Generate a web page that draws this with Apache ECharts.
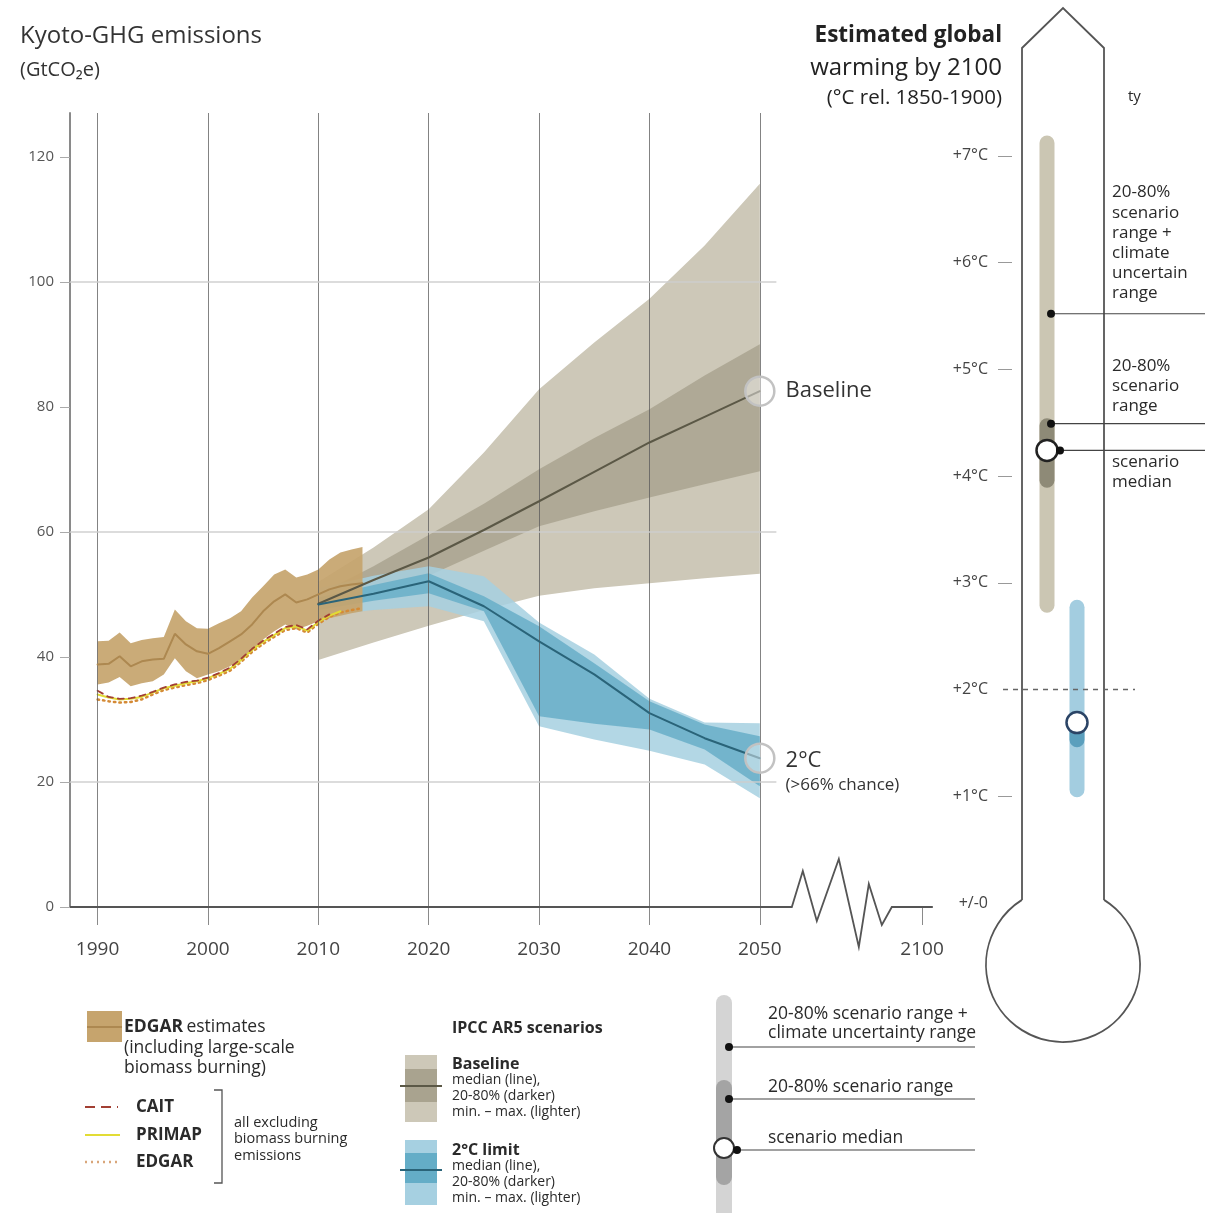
<!DOCTYPE html>
<html><head><meta charset="utf-8">
<script src="https://cdn.jsdelivr.net/npm/echarts@6/dist/echarts.min.js"></script>
<style>html,body{margin:0;padding:0;background:#fff}#c{width:1218px;height:1213px}</style>
</head><body><div id="c"></div>
<script>
// ---------------- DATA ----------------
const histYears = [1990,1991,1992,1993,1994,1995,1996,1997,1998,1999,2000,2001,2002,2003,2004,2005,2006,2007,2008,2009,2010,2011,2012,2013,2014];
const edgarHigh = [42.5,42.6,43.9,42.2,42.7,43.0,43.2,47.6,45.7,44.6,44.5,45.4,46.2,47.3,49.5,51.3,53.2,54.0,52.7,53.2,54.0,55.6,56.7,57.2,57.6];
const edgarMed  = [38.8,38.9,40.1,38.5,39.3,39.6,39.7,43.7,42.0,40.9,40.5,41.4,42.5,43.6,45.2,47.3,48.9,50.0,48.7,49.2,50.0,50.8,51.3,51.6,51.8];
const edgarLow  = [35.6,35.9,36.8,35.3,35.8,36.1,37.2,39.8,37.7,36.6,37.2,37.7,38.5,39.6,40.9,42.8,44.1,45.2,44.4,45.0,45.7,46.2,46.6,47.0,47.3];
const edgarExcl = [33.2,32.9,32.7,32.8,33.2,34.0,34.7,35.1,35.5,35.8,36.3,37.0,37.8,39.2,40.8,42.1,43.2,44.3,44.6,43.9,45.3,46.4,47.1,47.5,47.8];
const primapYears = [1990,1991,1992,1993,1994,1995,1996,1997,1998,1999,2000,2001,2002,2003,2004,2005,2006,2007,2008,2009,2010,2011,2012];
const primapValues = [34.0,33.5,33.2,33.3,33.6,34.3,35.0,35.4,35.8,36.1,36.6,37.3,38.1,39.5,41.1,42.4,43.5,44.6,44.9,44.2,45.6,46.6,47.3];
const caitYears = [1990,1991,1992,1993,1994,1995,1996,1997,1998,1999,2000,2001,2002,2003,2004,2005,2006,2007,2008,2009,2010,2011];
const caitValues = [34.6,33.6,33.3,33.4,33.8,34.4,35.1,35.6,36.0,36.2,36.7,37.4,38.3,39.7,41.3,42.6,43.7,44.8,45.1,44.4,45.8,46.8];

const projYears = [2010,2015,2020,2025,2030,2035,2040,2045,2050];
const baseMax = [52.0,57.5,63.6,72.7,82.8,90.3,97.3,105.8,115.7];
const baseP80 = [50.0,54.5,59.5,64.5,70.0,75.0,79.6,85.0,90.0];
const baseMed = [48.5,52.3,55.9,60.3,64.9,69.6,74.3,78.4,82.5];
const baseP20 = [47.0,50.0,53.0,57.0,60.9,63.3,65.5,67.6,69.7];
const baseMin = [39.5,42.3,45.0,47.5,49.8,51.0,51.8,52.6,53.3];

const twoMax = [51.0,53.0,54.5,52.9,45.5,40.4,33.3,29.5,29.4];
const twoP80 = [49.5,51.5,53.4,49.7,44.9,39.0,32.9,29.2,27.3];
const twoMed = [48.4,50.1,52.1,48.1,42.5,37.2,31.0,27.0,23.8];
const twoP20 = [47.5,49.0,50.2,47.3,30.5,29.3,28.4,25.2,19.3];
const twoMin = [46.5,47.5,48.1,45.7,28.9,26.8,25.0,22.8,17.4];

const yTicks = [0,20,40,60,80,100,120];
const yGridValues = [20,60,100];
const xGridYears = [1990,2000,2010,2020,2030,2040,2050];
const xTickYears = [1990,2000,2010,2020,2030,2040,2050,2100];

const warmCats = ['Baseline','2°C'];
const warmOuterLo = [2.72,0.99];
const warmOuterHi = [7.19,2.84];
const warmInnerLo = [3.89,1.46];
const warmInnerHi = [4.54,1.75];
const warmMed = [4.24,1.69];
const warmAnnot = [5.52,4.49,4.24];
const tempTickValues = [0,1,2,3,4,5,6,7];
const tempTickLabels = ['+/-0','+1°C','+2°C','+3°C','+4°C','+5°C','+6°C','+7°C'];
const tempTickMarks = [1,3,4,5,6,7];
const twoDegLine = 2;

// ---------------- LAYOUT / STYLE ----------------
const FONT = '"Open Sans","Noto Sans",sans-serif';
const X_MIN = 1987.5, X_MAX = 2065.6, BREAK_POS = 2064.7; // axis is broken after 2050; 2100 drawn at BREAK_POS
const xTickPos = xTickYears.map(y => y > 2050 ? BREAK_POS : y);
const C = {
  edgar:'#c6a46d', edgarLine:'#ad8850',
  baseLight:'#cdc8b8', baseDark:'#a9a38f', baseLine:'#5b5846',
  twoLight:'#a6d0e1', twoDark:'#64adc7', twoLine:'#2a6479',
  cait:'#a23f33', primap:'#e2dc35', edgarExcl:'#d48a36'
};

function bandSeries(name, xs, lo, hi, color, opacity, z) {
  return {
    name, type:'custom', xAxisIndex:0, yAxisIndex:0, z, silent:true,
    data: xs.map((x,i)=>[x, lo[i], hi[i]]),
    encode:{x:0, y:[1,2]},
    renderItem(params, api) {
      if (params.dataIndex !== 0) return null;
      const pts = [];
      for (let i=0;i<xs.length;i++) pts.push(api.coord([xs[i], hi[i]]));
      for (let i=xs.length-1;i>=0;i--) pts.push(api.coord([xs[i], lo[i]]));
      return {type:'polygon', shape:{points:pts}, style:{fill:color, opacity}};
    }
  };
}
function lineSeries(name, xs, ys, color, width, type, z, extra) {
  return Object.assign({
    name, type:'line', xAxisIndex:0, yAxisIndex:0, z, silent:true, symbol:'none',
    data: xs.map((x,i)=>[x, ys[i]]),
    lineStyle:{color, width, type, cap:'round'}
  }, extra||{});
}
function warmBar(lo, hi, colors, w, z) {
  return {
    type:'custom', xAxisIndex:1, yAxisIndex:1, z, silent:true,
    data: warmCats.map((c,i)=>[i, lo[i], hi[i]]),
    encode:{x:0, y:[1,2]},
    renderItem(params, api) {
      const i = params.dataIndex;
      const top = api.coord([i, api.value(2)]);
      const bot = api.coord([i, api.value(1)]);
      return {type:'rect', shape:{x:top[0]-w/2, y:top[1], width:w, height:bot[1]-top[1], r:w/2}, style:{fill:colors[i]}};
    }
  };
}

const chart = echarts.init(document.getElementById('c'));
const last = projYears.length - 1;

chart.setOption({
  animation:false,
  textStyle:{fontFamily:FONT},
  grid:[
    {left:70, top:113, right:286, bottom:306},
    {left:1032, width:60, top:49, bottom:310}
  ],
  xAxis:[
    {type:'value', gridIndex:0, min:X_MIN, max:X_MAX,
     axisLine:{show:false},
     axisTick:{show:true, customValues:xTickPos, length:18, lineStyle:{color:'#8a8a8a', width:1}},
     axisLabel:{customValues:xTickPos, margin:33, fontSize:19, color:'#444', fontFamily:FONT,
       formatter:v=>{const i=xTickPos.findIndex(p=>Math.abs(p-v)<0.01); return i>=0?String(xTickYears[i]):'';}},
     splitLine:{show:false}},
    {type:'category', gridIndex:1, data:warmCats, show:false}
  ],
  yAxis:[
    {type:'value', gridIndex:0, min:0, max:127,
     axisLine:{show:true, lineStyle:{color:'#8a8a8a', width:2}},
     axisTick:{show:true, customValues:yTicks, length:10, lineStyle:{color:'#aaa'}},
     axisLabel:{customValues:yTicks, margin:16, fontSize:15, color:'#555', fontFamily:FONT},
     splitLine:{show:false}},
    {type:'value', gridIndex:1, min:0, max:8, offset:20,
     axisLine:{show:false},
     axisTick:{show:true, customValues:tempTickMarks, length:14, lineStyle:{color:'#999'}},
     axisLabel:{customValues:tempTickValues, margin:24, fontSize:16, color:'#444', fontFamily:FONT,
       formatter:v=>{const i=tempTickValues.indexOf(Math.round(v)); return i>=0?tempTickLabels[i]:'';}},
     splitLine:{show:false}}
  ],
  series:[
    bandSeries('Baseline min-max', projYears, baseMin, baseMax, C.baseLight, 1, 1),
    bandSeries('Baseline 20-80%', projYears, baseP20, baseP80, C.baseDark, 0.85, 1),
    bandSeries('2°C min-max', projYears, twoMin, twoMax, C.twoLight, 0.85, 2),
    bandSeries('2°C 20-80%', projYears, twoP20, twoP80, C.twoDark, 0.8, 2),
    bandSeries('EDGAR estimates', histYears, edgarLow, edgarHigh, C.edgar, 0.92, 3),
    lineSeries('EDGAR excl', histYears, edgarExcl, C.edgarExcl, 2.5, [1.5,4], 4),
    lineSeries('PRIMAP', primapYears, primapValues, C.primap, 2, 'solid', 4),
    lineSeries('CAIT', caitYears, caitValues, C.cait, 1.8, [6,5], 4),
    lineSeries('EDGAR median', histYears, edgarMed, C.edgarLine, 2, 'solid', 5, {
      markLine:{silent:true, symbol:'none', label:{show:false}, animation:false,
        lineStyle:{color:'rgba(90,90,90,0.75)', width:1, type:'solid'},
        data:[
          ...xGridYears.map(y=>({xAxis:y})),
          ...yGridValues.map(v=>[{coord:[X_MIN, v], lineStyle:{color:'rgba(205,205,205,0.7)', width:2}}, {coord:[2051.5, v]}])
        ]}
    }),
    lineSeries('Baseline median', projYears, baseMed, C.baseLine, 2, 'solid', 6),
    lineSeries('2°C median', projYears, twoMed, C.twoLine, 2, 'solid', 6),
    {type:'scatter', xAxisIndex:0, yAxisIndex:0, z:7, silent:true, symbolSize:29,
     itemStyle:{color:'rgba(255,255,255,0.45)', borderColor:'#c2c2c2', borderWidth:2.5, opacity:1},
     data:[
       {value:[projYears[last], baseMed[last]], label:{show:true, position:'right', distance:10, formatter:'Baseline', fontSize:22, color:'#333', fontFamily:FONT}},
       {value:[projYears[last], twoMed[last]], label:{show:true, position:'right', distance:10, offset:[0,13],
          formatter:'{a|2°C}\n{b|(>66% chance)}',
          rich:{a:{fontSize:22, color:'#333', fontFamily:FONT, lineHeight:27}, b:{fontSize:17, color:'#333', fontFamily:FONT, lineHeight:20}}}}
     ]},
    warmBar(warmOuterLo, warmOuterHi, ['#cbc6b3','#a3cde0'], 15, 2),
    warmBar(warmInnerLo, warmInnerHi, ['#8e8a77','#5b9fbd'], 15, 3),
    {type:'scatter', xAxisIndex:1, yAxisIndex:1, z:5, silent:true, symbolSize:21,
     data: warmCats.map((c,i)=>({value:[i, warmMed[i]], itemStyle:{color:'#fff', opacity:1, borderColor:i===0?'#222':'#2b4466', borderWidth:2.5}}))}
  ]
});

// ---------------- DECORATION (graphic) ----------------
const p = (g, v) => chart.convertToPixel({gridIndex:g}, v);
const o = p(0, [2050, 0]);
const gx0 = p(0, [X_MIN, 0])[0];
const zig = [[32,0],[43,-36],[57,14],[79,-48],[99,40],[109,-23],[122,18],[132,0],[173,0]];
const tyOf = v => p(1, [0, v])[1];
const barX = p(1, [0, 0])[0];

function txt(text, x, y, size, opts) {
  return {type:'text', z:50, silent:true, style:Object.assign({
    text, x, y, font:`${(opts&&opts.bold)?'bold ':''}${size}px ${FONT}`, fill:'#2a2a2a',
    textAlign:'left', textVerticalAlign:'middle'}, (opts&&opts.style)||{})};
}
function seg(x1,y1,x2,y2,color,width,dash){
  return {type:'line', z:40, silent:true, shape:{x1,y1,x2,y2}, style:{stroke:color, lineWidth:width, lineDash:dash||null}};
}
function dot(x,y,r,fill,stroke,lw){
  return {type:'circle', z:45, silent:true, shape:{cx:x,cy:y,r}, style:{fill, stroke:stroke||null, lineWidth:lw||0}};
}
function rect(x,y,w,h,fill,r){
  return {type:'rect', z:40, silent:true, shape:{x,y,width:w,height:h,r:r||0}, style:{fill}};
}

const g = [];
// axis baseline + break
g.push({type:'polyline', z:30, silent:true,
  shape:{points:[[gx0, o[1]], ...zig.map(d=>[o[0]+d[0], o[1]+d[1]])]},
  style:{stroke:'#555', lineWidth:1.8, fill:null}});

// titles
g.push(txt('Kyoto-GHG emissions', 20, 36, 24, {style:{fill:'#333'}}));
g.push(txt('(GtCO₂e)', 20, 70, 20, {style:{fill:'#333'}}));
g.push(txt('Estimated global', 1002, 36, 22.5, {bold:true, style:{textAlign:'right', fill:'#222'}}));
g.push(txt('warming by 2100', 1002, 68, 24, {style:{textAlign:'right', fill:'#222'}}));
g.push(txt('(°C rel. 1850-1900)', 1002, 98, 20.5, {style:{textAlign:'right', fill:'#222'}}));

// thermometer outline
const bc = [1063, 965], br = 77;
const aR = Math.atan2(900 - bc[1], 1104 - bc[0]);
const aL = Math.atan2(900 - bc[1], 1022 - bc[0]) + Math.PI * 2;
g.push({type:'polyline', z:10, silent:true,
  shape:{points:[[1022,900],[1022,48],[1063,8],[1104,48],[1104,900]]},
  style:{stroke:'#555', lineWidth:1.8, fill:null}});
g.push({type:'arc', z:10, silent:true,
  shape:{cx:bc[0], cy:bc[1], r:br, startAngle:aR, endAngle:aL, clockwise:true},
  style:{stroke:'#555', lineWidth:1.8, fill:null}});
// +2°C dashed line
const y2 = tyOf(twoDegLine);
g.push(seg(1003, y2, 1135, y2, '#666', 1.5, [5,5]));

// annotation callouts
const ax = [barX+4, barX+4, barX+13];
warmAnnot.forEach((v,i)=>{
  const yy = tyOf(v);
  g.push(seg(ax[i], yy, 1205, yy, '#444', 1.2));
  g.push(dot(ax[i], yy, 4, '#111'));
});
g.push(txt('ty', 1128, 97, 15));
g.push(txt('20-80%\nscenario\nrange +\nclimate\nuncertain\nrange', 1112, 243, 17, {style:{lineHeight:20.2}}));
g.push(txt('20-80%\nscenario\nrange', 1112, 386, 17, {style:{lineHeight:20}}));
g.push(txt('scenario\nmedian', 1112, 472, 17, {style:{lineHeight:19.5}}));

// legend: EDGAR estimates
g.push(rect(87, 1011, 35, 31, C.edgar));
g.push(seg(87, 1027, 122, 1027, C.edgarLine, 2));
g.push({type:'text', z:50, silent:true, style:{text:'{b|EDGAR} {r|estimates}\n{r|(including large-scale}\n{r|biomass burning)}',
  x:124, y:1048, textVerticalAlign:'middle', fill:'#2a2a2a',
  rich:{b:{fontWeight:'bold', fontSize:17.5, fontFamily:FONT, fill:'#2a2a2a', lineHeight:20.5},
        r:{fontSize:17.5, fontFamily:FONT, fill:'#2a2a2a', lineHeight:20.5}}}});
g.push(seg(85, 1107, 118, 1107, C.cait, 2, [10,6]));
g.push(seg(85, 1135, 120, 1135, C.primap, 2));
g.push(seg(85, 1162, 120, 1162, '#d9a67a', 2.5, [2,4]));
g.push(txt('CAIT', 136, 1107, 17, {bold:true}));
g.push(txt('PRIMAP', 136, 1135, 17, {bold:true}));
g.push(txt('EDGAR', 136, 1162, 17, {bold:true}));
g.push({type:'polyline', z:40, silent:true, shape:{points:[[214,1090],[222,1090],[222,1183],[214,1183]]}, style:{stroke:'#555', lineWidth:1.3, fill:null}});
g.push(txt('all excluding\nbiomass burning\nemissions', 234, 1139, 14.5, {style:{lineHeight:16.5}}));

// legend: IPCC AR5
g.push(txt('IPCC AR5 scenarios', 452, 1028, 16, {bold:true}));
g.push(rect(405, 1055, 32, 67, C.baseLight));
g.push(rect(405, 1069, 32, 33, C.baseDark));
g.push(seg(400, 1086, 442, 1086, C.baseLine, 2));
g.push(txt('Baseline', 452, 1064, 16, {bold:true}));
g.push(txt('median (line),\n20-80% (darker)\nmin. – max. (lighter)', 452, 1096, 14, {style:{lineHeight:16}}));
g.push(rect(405, 1140, 32, 65, C.twoLight));
g.push(rect(405, 1153, 32, 30, C.twoDark));
g.push(seg(400, 1170, 442, 1170, C.twoLine, 2));
g.push(txt('2°C limit', 452, 1150, 16, {bold:true}));
g.push(txt('median (line),\n20-80% (darker)\nmin. – max. (lighter)', 452, 1182, 14, {style:{lineHeight:16}}));

// legend: range key
g.push(rect(716, 995, 16, 230, '#d4d4d4', 8));
g.push(rect(716, 1080, 16, 105, '#a4a4a4', 8));
g.push(seg(729, 1047, 975, 1047, '#444', 1.2));
g.push(seg(729, 1099, 975, 1099, '#444', 1.2));
g.push(seg(737, 1150, 975, 1150, '#444', 1.2));
g.push(dot(724, 1148, 10, '#fff', '#333', 2));
g.push(dot(729, 1047, 4, '#111'));
g.push(dot(729, 1099, 4, '#111'));
g.push(dot(737, 1150, 4, '#111'));
g.push(txt('20-80% scenario range +\nclimate uncertainty range', 768, 1024, 17.5, {style:{lineHeight:19}}));
g.push(txt('20-80% scenario range', 768, 1087, 17.5));
g.push(txt('scenario median', 768, 1138, 17.5));

chart.setOption({graphic:g});
</script>
</body></html>
